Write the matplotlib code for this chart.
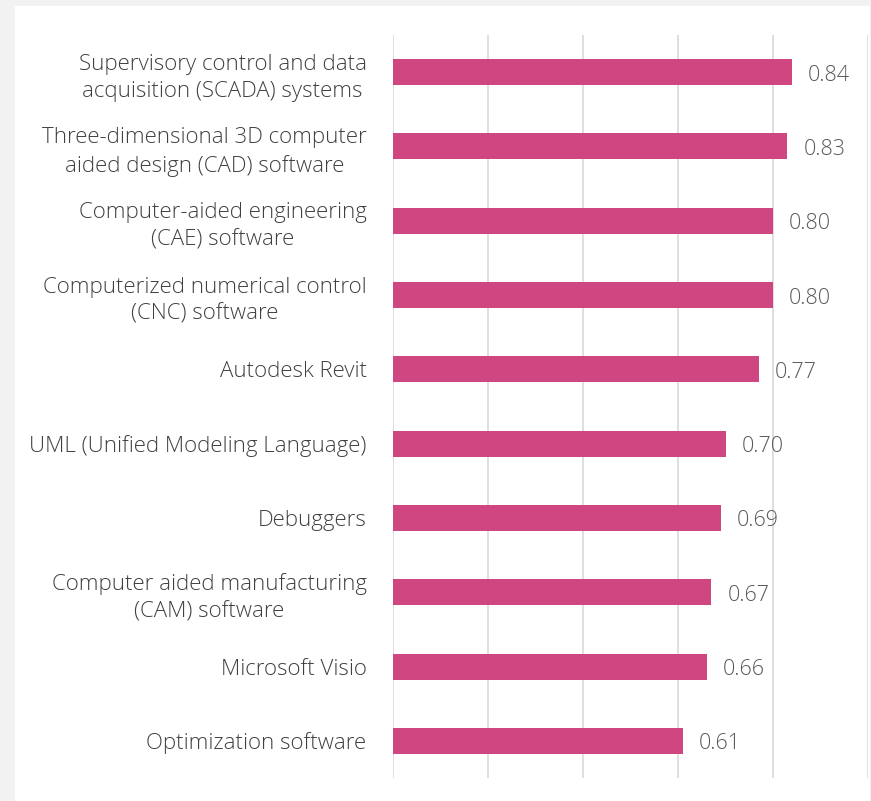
import matplotlib.pyplot as plt
from matplotlib.patches import Rectangle

categories = [
    "Supervisory control and data\nacquisition (SCADA) systems",
    "Three-dimensional 3D computer\naided design (CAD) software",
    "Computer-aided engineering\n(CAE) software",
    "Computerized numerical control\n(CNC) software",
    "Autodesk Revit",
    "UML (Unified Modeling Language)",
    "Debuggers",
    "Computer aided manufacturing\n(CAM) software",
    "Microsoft Visio",
    "Optimization software",
]
values = [0.84, 0.83, 0.80, 0.80, 0.77, 0.70, 0.69, 0.67, 0.66, 0.61]

plt.rcParams['font.family'] = ['Open Sans', 'DejaVu Sans']

fig = plt.figure(figsize=(8.71, 8.01), dpi=100)
fig.patch.set_facecolor("#f2f2f2")
# white panel behind the chart
panel = Rectangle((15 / 871, 0), 855 / 871, 795 / 801,
                  transform=fig.transFigure, facecolor="white",
                  edgecolor="none", zorder=-10)
fig.add_artist(panel)

ax = fig.add_axes([393 / 871, 23 / 801, 475 / 871, 743 / 801])
ax.set_facecolor("none")

y = list(range(len(categories)))
ax.barh(y, values, height=0.35, color="#d04681", zorder=2)

for yi, v in zip(y, values):
    ax.text(v + 0.034, yi + 0.04, f"{v:.2f}", va="center", ha="left",
            fontsize=15.5, color="#595959", fontweight="light")

ax.set_yticks(y)
ax.set_yticklabels(categories, fontsize=16, color="#404040",
                   multialignment="center", fontweight="light",
                   linespacing=1.4)
ax.set_ylim(len(categories) - 0.5, -0.5)
ax.set_xlim(0, 1.0)
ax.set_xticks([0, 0.2, 0.4, 0.6, 0.8, 1.0])
ax.set_xticklabels([])
ax.tick_params(length=0)
ax.tick_params(axis="y", pad=19)
ax.grid(axis="x", color="#d9d9d9", linewidth=1.2, zorder=0)
for s in ax.spines.values():
    s.set_visible(False)

plt.savefig("out.png", dpi=100, facecolor=fig.get_facecolor())
